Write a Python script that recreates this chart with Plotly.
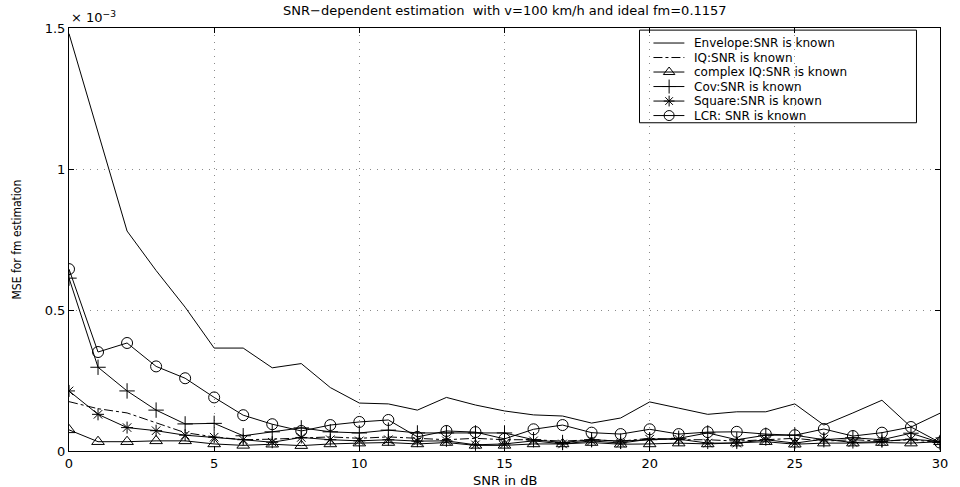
import plotly.graph_objects as go

# SNR grid (dB) and MSE of the fm estimate, in units of 1e-3
snr_db = list(range(0, 31))

mse_envelope = [1.48, 1.13, 0.78, 0.64, 0.51, 0.365, 0.365, 0.295, 0.31, 0.225, 0.17,
                0.167, 0.145, 0.19, 0.163, 0.142, 0.128, 0.124, 0.099, 0.117, 0.174,
                0.152, 0.13, 0.139, 0.139, 0.167, 0.092, 0.135, 0.18, 0.085, 0.134]
mse_iq = [0.175, 0.15, 0.135, 0.10, 0.065, 0.05, 0.04, 0.042, 0.045, 0.05, 0.045,
          0.05, 0.045, 0.04, 0.045, 0.04, 0.04, 0.035, 0.04, 0.035, 0.045,
          0.04, 0.04, 0.035, 0.04, 0.045, 0.035, 0.04, 0.035, 0.04, 0.03]
mse_complex_iq = [0.075, 0.033, 0.033, 0.036, 0.036, 0.025, 0.02, 0.024, 0.019, 0.025, 0.028,
                  0.03, 0.025, 0.03, 0.02, 0.02, 0.025, 0.025, 0.03, 0.024, 0.025,
                  0.028, 0.025, 0.028, 0.033, 0.024, 0.028, 0.028, 0.03, 0.028, 0.033]
mse_cov = [0.613, 0.297, 0.213, 0.145, 0.096, 0.098, 0.054, 0.068, 0.082, 0.068, 0.064,
           0.074, 0.064, 0.064, 0.064, 0.064, 0.04, 0.03, 0.04, 0.035, 0.04,
           0.045, 0.064, 0.04, 0.056, 0.056, 0.04, 0.047, 0.04, 0.063, 0.03]
mse_square = [0.213, 0.13, 0.083, 0.072, 0.056, 0.049, 0.04, 0.031, 0.048, 0.04, 0.036,
              0.04, 0.035, 0.036, 0.022, 0.025, 0.036, 0.025, 0.036, 0.028, 0.042,
              0.042, 0.028, 0.028, 0.04, 0.028, 0.042, 0.03, 0.034, 0.042, 0.034]
mse_lcr = [0.645, 0.351, 0.383, 0.30, 0.258, 0.19, 0.127, 0.095, 0.071, 0.092, 0.103,
           0.11, 0.05, 0.071, 0.067, 0.043, 0.077, 0.092, 0.065, 0.06, 0.077,
           0.06, 0.067, 0.068, 0.06, 0.056, 0.078, 0.053, 0.065, 0.085, 0.03]

series_names = ["Envelope:SNR is known", "IQ:SNR is known", "complex IQ:SNR is known",
                "Cov:SNR is known", "Square:SNR is known", "LCR: SNR is known"]
series_values = [mse_envelope, mse_iq, mse_complex_iq, mse_cov, mse_square, mse_lcr]
series_dash = ["solid", "dashdot", "solid", "solid", "solid", "solid"]
series_symbol = [None, None, "triangle-up-open", "cross-thin-open", "asterisk-open", "circle-open"]
series_msize = [0, 0, 11, 11, 10, 11]

x_ticks = [0, 5, 10, 15, 20, 25, 30]
y_ticks = [0, 0.5, 1, 1.5]
y_ticklabels = ["0", "0.5", "1", "1.5"]

FONT = "DejaVu Sans"
BLACK = "#000000"

fig = go.Figure()

for name, vals, dash, sym, ms in zip(series_names, series_values, series_dash,
                                     series_symbol, series_msize):
    mode = "lines+markers" if sym else "lines"
    fig.add_trace(go.Scatter(
        x=snr_db, y=vals, name=name, mode=mode,
        line=dict(color=BLACK, width=1, dash=dash),
        marker=dict(symbol=sym or "circle", size=ms, color=BLACK,
                    line=dict(color=BLACK, width=1)),
        showlegend=False,
    ))

# Legend box drawn on an overlay axis spanning the plot area (0..1 in both directions)
leg_x0, leg_x1 = 0.655, 0.973
leg_y0, leg_y1 = 0.776, 0.995
row_top = 0.9645
row_step = 0.0343
sample_x = [0.671, 0.689, 0.7065]
text_x = 0.7156

for i, (name, dash, sym, ms) in enumerate(zip(series_names, series_dash,
                                               series_symbol, series_msize)):
    yy = row_top - i * row_step
    fig.add_trace(go.Scatter(
        x=sample_x, y=[yy] * 3, xaxis="x2", yaxis="y2",
        mode="lines", line=dict(color=BLACK, width=1, dash=dash),
        showlegend=False, hoverinfo="skip",
    ))
    if sym:
        fig.add_trace(go.Scatter(
            x=[sample_x[1]], y=[yy], xaxis="x2", yaxis="y2", mode="markers",
            marker=dict(symbol=sym, size=ms - 1, color=BLACK,
                        line=dict(color=BLACK, width=1)),
            showlegend=False, hoverinfo="skip",
        ))
    fig.add_annotation(x=text_x, y=yy, xref="x2", yref="y2", text=name,
                       showarrow=False, xanchor="left", yanchor="middle",
                       font=dict(family=FONT, size=12, color=BLACK))

fig.add_shape(type="rect", xref="paper", yref="paper",
              x0=leg_x0, x1=leg_x1, y0=leg_y0, y1=leg_y1,
              line=dict(color=BLACK, width=1), fillcolor="white", layer="between")

axis_common = dict(
    showline=True, linecolor=BLACK, linewidth=1, mirror="allticks",
    ticks="inside", ticklen=5, tickcolor=BLACK, tickwidth=1,
    showgrid=True, gridcolor="#8a8a8a", gridwidth=1, griddash="1px,6px",
    zeroline=False, tickfont=dict(family=FONT, size=13, color=BLACK),
)

fig.update_layout(
    width=960, height=487,
    margin=dict(l=69, r=12, t=28, b=36),
    paper_bgcolor="white", plot_bgcolor="white",
    xaxis=dict(range=[0, 30], tickvals=x_ticks, ticklabelstandoff=0, **axis_common),
    yaxis=dict(range=[0, 1.5], tickvals=y_ticks, ticktext=y_ticklabels,
               ticklabelstandoff=0, **axis_common),
    xaxis2=dict(range=[0, 1], overlaying="x", visible=False, fixedrange=True),
    yaxis2=dict(range=[0, 1], overlaying="y", visible=False, fixedrange=True),
    showlegend=False,
)

# Title, axis labels and the exponent of the y scale
fig.add_annotation(x=0.5, y=1, xref="paper", yref="paper", yshift=8,
                   text="SNR\u2212dependent estimation  with v=100 km/h and ideal fm=0.1157",
                   showarrow=False, xanchor="center", yanchor="bottom",
                   font=dict(family=FONT, size=13, color=BLACK))
fig.add_annotation(x=0.5, y=0, xref="paper", yref="paper", yshift=-20,
                   text="SNR in dB", showarrow=False, xanchor="center", yanchor="top",
                   font=dict(family=FONT, size=13, color=BLACK))
fig.add_annotation(x=0, y=0.5, xref="paper", yref="paper", xshift=-53,
                   text="MSE for fm estimation", showarrow=False, textangle=-90,
                   xanchor="center", yanchor="middle",
                   font=dict(family="DejaVu Sans Condensed, Liberation Sans", size=12,
                             color=BLACK))
fig.add_annotation(x=0, y=1, xref="paper", yref="paper", yshift=1,
                   text="\u00d7 10<sup>\u22123</sup>", showarrow=False,
                   xanchor="left", yanchor="bottom",
                   font=dict(family=FONT, size=13, color=BLACK))

fig.write_html("out.html")
